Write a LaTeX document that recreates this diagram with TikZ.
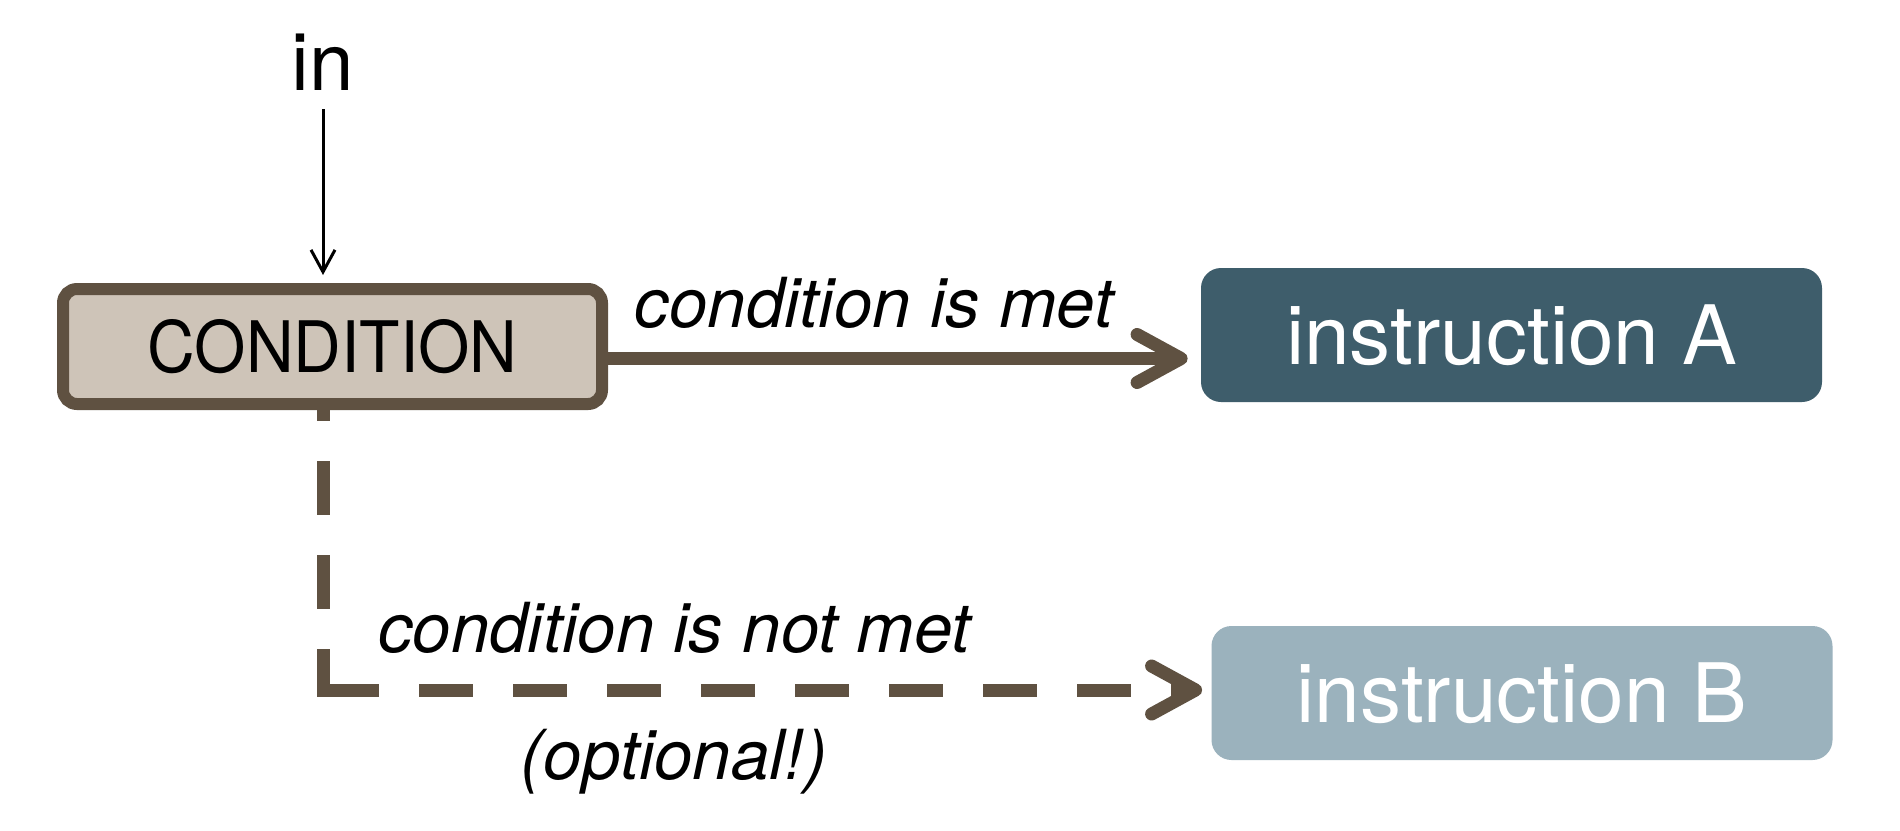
\documentclass[tikz,border=0pt]{standalone}
\usepackage{fontspec}
\setmainfont{TeX Gyre Heros}
\usetikzlibrary{arrows.meta}
\definecolor{brn}{HTML}{5F5141}
\definecolor{beige}{HTML}{CEC4B8}
\definecolor{tealA}{HTML}{3E5D6B}
\definecolor{blueB}{HTML}{9BB2BD}
\tikzset{
  condbox/.style={draw=brn, fill=beige, line width=6pt, rounded corners=7pt,
    minimum width=269.5pt, minimum height=57.5pt, inner sep=0pt,
    font=\fontsize{35.5pt}{40pt}\selectfont, text=black},
  instrbox/.style={rounded corners=10pt, minimum width=310.5pt, minimum height=67pt,
    inner sep=0pt, text=white, font=\fontsize{41pt}{48pt}\selectfont},
  lbl/.style={inner sep=0pt, anchor=base, font=\fontsize{34.5pt}{40pt}\selectfont\itshape},
  inarrow/.style={line width=1.5pt, -{Straight Barb[length=11pt,width=12pt]}},
  brntip/.style={-{Straight Barb[length=22pt,width=24pt,round]}},
  mainarrow/.style={draw=brn, line width=6.5pt, brntip},
  dashline/.style={draw=brn, line width=6.5pt, line cap=butt, dash pattern=on 27pt off 20pt}
}
\begin{document}
\begin{tikzpicture}[x=0.5pt,y=-0.5pt]
\useasboundingbox (0,0) rectangle (1900,830);
\fill[white] (0,0) rectangle (1900,830);

\node[condbox] (cond) at (332.5,346.5) {\scalebox{0.93}[1]{CONDITION}};
\node[instrbox, fill=tealA] (A) at (1511.5,335) {instruction A};
\node[instrbox, fill=blueB] (B) at (1522,693) {instruction B};

\node[inner sep=0pt, anchor=base, font=\fontsize{40pt}{46pt}\selectfont] (in) at (323,90) {in};

\coordinate (yA) at (0,358.5);
\coordinate (corner) at (323,690);

% input arrow
\draw[inarrow, shorten <=9.5pt, shorten >=4pt] (in.south) -- (in.south |- cond.north);

% condition met
\draw[mainarrow, shorten >=6.5pt] (cond.east |- yA) -- (A.west |- yA);

% condition not met (dashed)
\draw[dashline, dash phase=21.5pt] (cond.south -| corner) -- ([yshift=-3.5pt]corner);
\draw[dashline, brntip, shorten >=4.5pt]
  ([xshift=1pt]corner) -- (B.west |- corner);

\node[lbl] (met) at (874,327) {condition is met};
\node[lbl] (notmet) at (674.5,652) {condition is not met};
\node[lbl] (opt) at (674,779) {(optional!)};
\end{tikzpicture}
\end{document}
